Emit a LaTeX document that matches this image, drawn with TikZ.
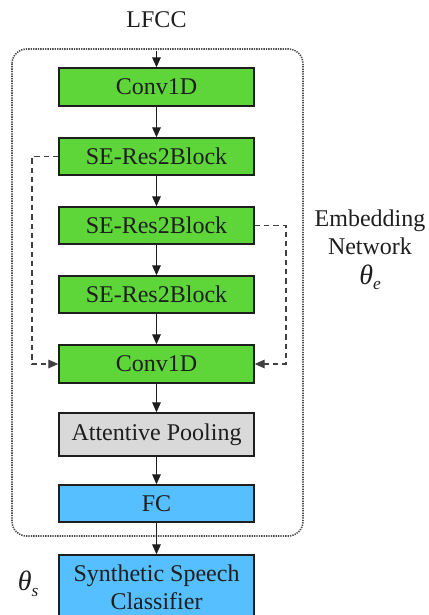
\documentclass[tikz,border=0pt]{standalone}
\usepackage{fontspec}
\setmainfont{Liberation Serif}
\usetikzlibrary{arrows.meta}
\definecolor{blockgreen}{RGB}{94,214,58}
\definecolor{poolgray}{RGB}{217,217,217}
\definecolor{fcblue}{RGB}{85,191,255}
\definecolor{inkdark}{RGB}{30,30,30}
\newcommand{\paramsym}[1]{\textit{θ}\raisebox{-0.45ex}{\fontsize{13}{13}\selectfont\textit{#1}}}
\begin{document}
\begin{tikzpicture}[x=0.75pt,y=-0.75pt,
  font=\fontsize{18}{20}\selectfont,
  block/.style={draw=inkdark,line width=1.1pt,minimum width=146.25pt,inner sep=0pt,text=inkdark},
  flow/.style={draw=inkdark,line width=0.9pt,-{Triangle[length=7.5pt,width=6.5pt]}},
  skip/.style={draw=inkdark!85,line width=0.9pt,dashed,dash pattern=on 4pt off 3pt,-{Triangle[length=7.5pt,width=6.5pt]}}]
\useasboundingbox (0,0) rectangle (429,615);
% embedding network frame
\draw[gray!60!black,line width=1.2pt,dash pattern=on 1pt off 0.8pt,rounded corners=11pt] (12,49) rectangle (303,536);
% input label
\node[text=inkdark] (lfcc) at (156.5,20) {LFCC};
% blocks
\node[block,fill=blockgreen,minimum height=28.5pt] (c1) at (156.5,87) {Conv1D};
\node[block,fill=blockgreen,minimum height=27.75pt] (se1) at (156.5,156.5) {SE-Res2Block};
\node[block,fill=blockgreen,minimum height=27.75pt] (se2) at (156.5,225.5) {SE-Res2Block};
\node[block,fill=blockgreen,minimum height=27.75pt] (se3) at (156.5,294.5) {SE-Res2Block};
\node[block,fill=blockgreen,minimum height=28.5pt] (c2) at (156.5,364) {Conv1D};
\node[block,fill=poolgray,minimum height=32.25pt] (ap) at (156.5,434.5) {Attentive Pooling};
\node[block,fill=fcblue,minimum height=27.75pt] (fc) at (156.5,503.5) {FC};
\node[block,fill=fcblue,minimum height=48pt,align=center,font=\fontsize{18}{21}\selectfont] (cls) at (156.5,587) {Synthetic Speech\\Classifier};
% main flow
\draw[flow] ([yshift=-14pt]lfcc.south) -- (c1.north);
\draw[flow] (c1) -- (se1);
\draw[flow] (se1) -- (se2);
\draw[flow] (se2) -- (se3);
\draw[flow] (se3) -- (c2);
\draw[flow] (c2) -- (ap);
\draw[flow] (ap) -- (fc);
\draw[flow] (fc) -- (cls);
% residual connections
\coordinate (lx) at (32,0);
\coordinate (rx) at (286,0);
\draw[skip] (se1.west) -- (se1.west -| lx) -- (c2.west -| lx) -- (c2.west);
\draw[skip] (se2.east) -- (se2.east -| rx) -- (c2.east -| rx) -- (c2.east);
% side labels
\node[align=center,text=inkdark] (emb) at (370,250) {Embedding\\[1pt]Network\\[2pt]{\fontsize{21}{21}\selectfont\paramsym{e}}};
\node[text=inkdark,font=\fontsize{21}{21}\selectfont] (ths) at (28,584) {\paramsym{s}};
\end{tikzpicture}
\end{document}
